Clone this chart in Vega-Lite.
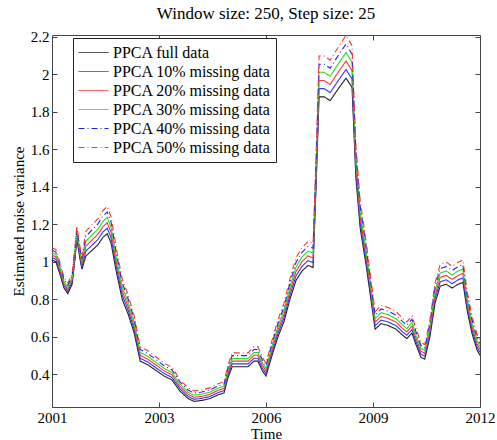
{
  "$schema": "https://vega.github.io/schema/vega-lite/v6.json",
  "autosize": {"type": "none"},
  "padding": {"left": 52, "top": 35, "right": 17, "bottom": 33},
  "width": 428,
  "height": 372,
  "background": "white",
  "title": {"text": "Window size: 250, Step size: 25", "font": "Liberation Serif", "fontSize": 17, "fontWeight": "normal", "color": "black", "offset": 7},
  "config": {
    "view": {"stroke": "#444", "strokeWidth": 1},
    "axis": {"labelFont": "Liberation Serif", "labelFontSize": 15, "labelColor": "black", "titleFont": "Liberation Serif", "titleFontSize": 15, "titleFontWeight": "normal", "titleColor": "black", "grid": false, "domain": false, "tickColor": "#444", "tickSize": -5}
  },
  "data": {"values": [
    {"t":0,"a":1.01,"b":1.023,"c":1.036,"d":1.049,"e":1.062,"f":1.076},
    {"t":0.9,"a":1.00,"b":1.013,"c":1.026,"d":1.039,"e":1.052,"f":1.065},
    {"t":1.9,"a":0.93,"b":0.942,"c":0.955,"d":0.967,"e":0.979,"f":0.992},
    {"t":2.8,"a":0.86,"b":0.872,"c":0.883,"d":0.895,"e":0.906,"f":0.918},
    {"t":3.7,"a":0.83,"b":0.841,"c":0.853,"d":0.864,"e":0.875,"f":0.887},
    {"t":4.7,"a":0.88,"b":0.892,"c":0.904,"d":0.915,"e":0.927,"f":0.939},
    {"t":5.4,"a":1.02,"b":1.033,"c":1.046,"d":1.060,"e":1.073,"f":1.086},
    {"t":5.8,"a":1.12,"b":1.134,"c":1.148,"d":1.163,"e":1.177,"f":1.191},
    {"t":6.5,"a":1.02,"b":1.033,"c":1.046,"d":1.060,"e":1.073,"f":1.086},
    {"t":7.0,"a":0.96,"b":0.973,"c":0.985,"d":0.998,"e":1.010,"f":1.023},
    {"t":7.9,"a":1.03,"b":1.057,"c":1.083,"d":1.110,"e":1.136,"f":1.163},
    {"t":9.3,"a":1.06,"b":1.087,"c":1.114,"d":1.142,"e":1.169,"f":1.196},
    {"t":10.7,"a":1.09,"b":1.118,"c":1.146,"d":1.173,"e":1.201,"f":1.229},
    {"t":11.9,"a":1.13,"b":1.159,"c":1.187,"d":1.216,"e":1.244,"f":1.273},
    {"t":12.9,"a":1.15,"b":1.179,"c":1.208,"d":1.237,"e":1.266,"f":1.295},
    {"t":13.8,"a":1.10,"b":1.128,"c":1.156,"d":1.184,"e":1.212,"f":1.240},
    {"t":15.0,"a":0.95,"b":0.975,"c":1.000,"d":1.025,"e":1.050,"f":1.075},
    {"t":16.4,"a":0.80,"b":0.822,"c":0.844,"d":0.866,"e":0.888,"f":0.910},
    {"t":17.8,"a":0.72,"b":0.740,"c":0.761,"d":0.781,"e":0.802,"f":0.822},
    {"t":19.2,"a":0.62,"b":0.638,"c":0.657,"d":0.675,"e":0.694,"f":0.712},
    {"t":20.6,"a":0.47,"b":0.485,"c":0.501,"d":0.516,"e":0.532,"f":0.547},
    {"t":22.4,"a":0.45,"b":0.465,"c":0.480,"d":0.495,"e":0.510,"f":0.525},
    {"t":24.3,"a":0.42,"b":0.434,"c":0.449,"d":0.463,"e":0.478,"f":0.492},
    {"t":26.2,"a":0.39,"b":0.404,"c":0.418,"d":0.431,"e":0.445,"f":0.459},
    {"t":28.0,"a":0.37,"b":0.383,"c":0.397,"d":0.410,"e":0.424,"f":0.437},
    {"t":29.9,"a":0.31,"b":0.322,"c":0.334,"d":0.347,"e":0.359,"f":0.371},
    {"t":31.8,"a":0.27,"b":0.281,"c":0.293,"d":0.304,"e":0.316,"f":0.327},
    {"t":33.2,"a":0.255,"b":0.266,"c":0.277,"d":0.288,"e":0.299,"f":0.311},
    {"t":35.0,"a":0.26,"b":0.271,"c":0.282,"d":0.294,"e":0.305,"f":0.316},
    {"t":36.9,"a":0.27,"b":0.281,"c":0.293,"d":0.304,"e":0.316,"f":0.327},
    {"t":38.8,"a":0.29,"b":0.302,"c":0.314,"d":0.325,"e":0.337,"f":0.349},
    {"t":40.2,"a":0.30,"b":0.312,"c":0.324,"d":0.336,"e":0.348,"f":0.360},
    {"t":41.1,"a":0.38,"b":0.394,"c":0.407,"d":0.421,"e":0.434,"f":0.448},
    {"t":42.1,"a":0.44,"b":0.455,"c":0.470,"d":0.484,"e":0.499,"f":0.514},
    {"t":43.9,"a":0.44,"b":0.455,"c":0.470,"d":0.484,"e":0.499,"f":0.514},
    {"t":45.8,"a":0.44,"b":0.455,"c":0.470,"d":0.484,"e":0.499,"f":0.514},
    {"t":47.2,"a":0.47,"b":0.485,"c":0.501,"d":0.516,"e":0.532,"f":0.547},
    {"t":48.1,"a":0.47,"b":0.485,"c":0.501,"d":0.516,"e":0.532,"f":0.547},
    {"t":49.1,"a":0.42,"b":0.434,"c":0.449,"d":0.463,"e":0.478,"f":0.492},
    {"t":50.0,"a":0.39,"b":0.404,"c":0.418,"d":0.431,"e":0.445,"f":0.459},
    {"t":51.4,"a":0.50,"b":0.516,"c":0.532,"d":0.548,"e":0.564,"f":0.580},
    {"t":52.8,"a":0.60,"b":0.618,"c":0.636,"d":0.654,"e":0.672,"f":0.690},
    {"t":54.2,"a":0.68,"b":0.700,"c":0.719,"d":0.739,"e":0.758,"f":0.778},
    {"t":55.6,"a":0.80,"b":0.822,"c":0.844,"d":0.866,"e":0.888,"f":0.910},
    {"t":57.0,"a":0.90,"b":0.924,"c":0.948,"d":0.972,"e":0.996,"f":1.020},
    {"t":58.4,"a":0.95,"b":0.975,"c":1.000,"d":1.025,"e":1.050,"f":1.075},
    {"t":59.8,"a":0.98,"b":1.006,"c":1.031,"d":1.057,"e":1.082,"f":1.108},
    {"t":61.0,"a":0.97,"b":0.995,"c":1.021,"d":1.046,"e":1.072,"f":1.097},
    {"t":61.7,"a":1.40,"b":1.434,"c":1.468,"d":1.502,"e":1.536,"f":1.570},
    {"t":62.4,"a":1.88,"b":1.924,"c":1.967,"d":2.011,"e":2.054,"f":2.098},
    {"t":63.6,"a":1.88,"b":1.924,"c":1.967,"d":2.011,"e":2.054,"f":2.098},
    {"t":65.0,"a":1.86,"b":1.903,"c":1.946,"d":1.990,"e":2.033,"f":2.076},
    {"t":66.8,"a":1.92,"b":1.964,"c":2.009,"d":2.053,"e":2.098,"f":2.142},
    {"t":68.7,"a":1.98,"b":2.026,"c":2.071,"d":2.117,"e":2.162,"f":2.208},
    {"t":70.1,"a":1.93,"b":1.975,"c":2.019,"d":2.064,"e":2.108,"f":2.153},
    {"t":71.0,"a":1.45,"b":1.485,"c":1.520,"d":1.555,"e":1.590,"f":1.625},
    {"t":72.0,"a":1.18,"b":1.210,"c":1.239,"d":1.269,"e":1.298,"f":1.328},
    {"t":73.4,"a":0.98,"b":1.006,"c":1.031,"d":1.057,"e":1.082,"f":1.108},
    {"t":74.5,"a":0.80,"b":0.822,"c":0.844,"d":0.866,"e":0.888,"f":0.910},
    {"t":75.5,"a":0.64,"b":0.659,"c":0.678,"d":0.696,"e":0.715,"f":0.734},
    {"t":76.9,"a":0.67,"b":0.689,"c":0.709,"d":0.728,"e":0.748,"f":0.767},
    {"t":78.5,"a":0.66,"b":0.679,"c":0.698,"d":0.718,"e":0.737,"f":0.756},
    {"t":80.4,"a":0.64,"b":0.659,"c":0.678,"d":0.696,"e":0.715,"f":0.734},
    {"t":81.8,"a":0.61,"b":0.628,"c":0.646,"d":0.665,"e":0.683,"f":0.701},
    {"t":82.9,"a":0.59,"b":0.608,"c":0.626,"d":0.643,"e":0.661,"f":0.679},
    {"t":84.1,"a":0.62,"b":0.638,"c":0.657,"d":0.675,"e":0.694,"f":0.712},
    {"t":85.0,"a":0.56,"b":0.577,"c":0.594,"d":0.612,"e":0.629,"f":0.646},
    {"t":86.2,"a":0.49,"b":0.506,"c":0.522,"d":0.537,"e":0.553,"f":0.569},
    {"t":87.1,"a":0.48,"b":0.496,"c":0.511,"d":0.527,"e":0.542,"f":0.558},
    {"t":88.3,"a":0.60,"b":0.618,"c":0.636,"d":0.654,"e":0.672,"f":0.690},
    {"t":89.5,"a":0.78,"b":0.802,"c":0.823,"d":0.845,"e":0.866,"f":0.888},
    {"t":90.7,"a":0.87,"b":0.893,"c":0.917,"d":0.940,"e":0.964,"f":0.987},
    {"t":92.1,"a":0.88,"b":0.904,"c":0.927,"d":0.951,"e":0.974,"f":0.998},
    {"t":93.5,"a":0.86,"b":0.883,"c":0.906,"d":0.930,"e":0.953,"f":0.976},
    {"t":94.9,"a":0.88,"b":0.904,"c":0.927,"d":0.951,"e":0.974,"f":0.998},
    {"t":96.0,"a":0.89,"b":0.914,"c":0.938,"d":0.961,"e":0.985,"f":1.009},
    {"t":97.0,"a":0.74,"b":0.761,"c":0.782,"d":0.802,"e":0.823,"f":0.844},
    {"t":98.1,"a":0.62,"b":0.638,"c":0.657,"d":0.675,"e":0.694,"f":0.712},
    {"t":99.3,"a":0.53,"b":0.547,"c":0.563,"d":0.580,"e":0.596,"f":0.613},
    {"t":100,"a":0.50,"b":0.516,"c":0.532,"d":0.548,"e":0.564,"f":0.580}
  ]},
  "transform": [{"fold": ["a", "b", "c", "d", "e", "f"], "as": ["s", "v"]}],
  "resolve": {"axis": {"x": "independent", "y": "independent"}},
  "layer": [
    {
      "mark": {"type": "line", "strokeWidth": 1.1, "clip": true},
      "encoding": {
        "x": {"field": "t", "type": "quantitative", "scale": {"domain": [0, 100], "nice": false, "zero": false},
              "axis": {"title": "Time", "values": [0, 25, 50, 75, 100], "labelExpr": "datum.value == 0 ? '2001' : datum.value == 25 ? '2003' : datum.value == 50 ? '2006' : datum.value == 75 ? '2009' : '2012'", "labelPadding": 8, "titlePadding": 1, "labelFlush": false}},
        "y": {"field": "v", "type": "quantitative", "scale": {"domain": [0.225, 2.21], "nice": false, "zero": false},
              "axis": {"title": "Estimated noise variance", "values": [0.4, 0.6, 0.8, 1, 1.2, 1.4, 1.6, 1.8, 2, 2.2], "format": "~g", "labelPadding": 8, "titlePadding": 4}},
        "color": {"field": "s", "type": "nominal",
                  "scale": {"domain": ["a", "b", "c", "d", "e", "f"], "range": ["#222222", "#3333ff", "#ff3333", "#22dd22", "#2222ee", "#ff3333"]},
                  "legend": {"title": null, "orient": "none", "legendX": 21, "legendY": 3, "strokeColor": "#222", "fillColor": "white", "padding": 5,
                             "symbolType": "stroke", "symbolSize": 900, "symbolStrokeWidth": 1, "clipHeight": 19, "rowPadding": 0,
                             "labelFont": "Liberation Serif", "labelFontSize": 16, "labelColor": "black", "labelLimit": 300,
                             "labelExpr": "datum.value == 'a' ? 'PPCA full data' : datum.value == 'b' ? 'PPCA 10% missing data' : datum.value == 'c' ? 'PPCA 20% missing data' : datum.value == 'd' ? 'PPCA 30% missing data' : datum.value == 'e' ? 'PPCA 40% missing data' : 'PPCA 50% missing data'"}},
        "strokeDash": {"field": "s", "type": "nominal",
                       "scale": {"domain": ["a", "b", "c", "d", "e", "f"], "range": [[1, 0], [1, 0], [1, 0], [1, 0], [6, 3, 1, 3], [6, 3, 1, 3]]}}
      }
    },
    {
      "mark": {"type": "point", "opacity": 0},
      "encoding": {
        "x": {"field": "t", "type": "quantitative", "axis": {"orient": "top", "values": [25, 50, 75], "labels": false, "title": null}},
        "y": {"field": "v", "type": "quantitative", "axis": {"orient": "right", "values": [0.4, 0.6, 0.8, 1, 1.2, 1.4, 1.6, 1.8, 2, 2.2], "labels": false, "title": null}}
      }
    }
  ]
}
